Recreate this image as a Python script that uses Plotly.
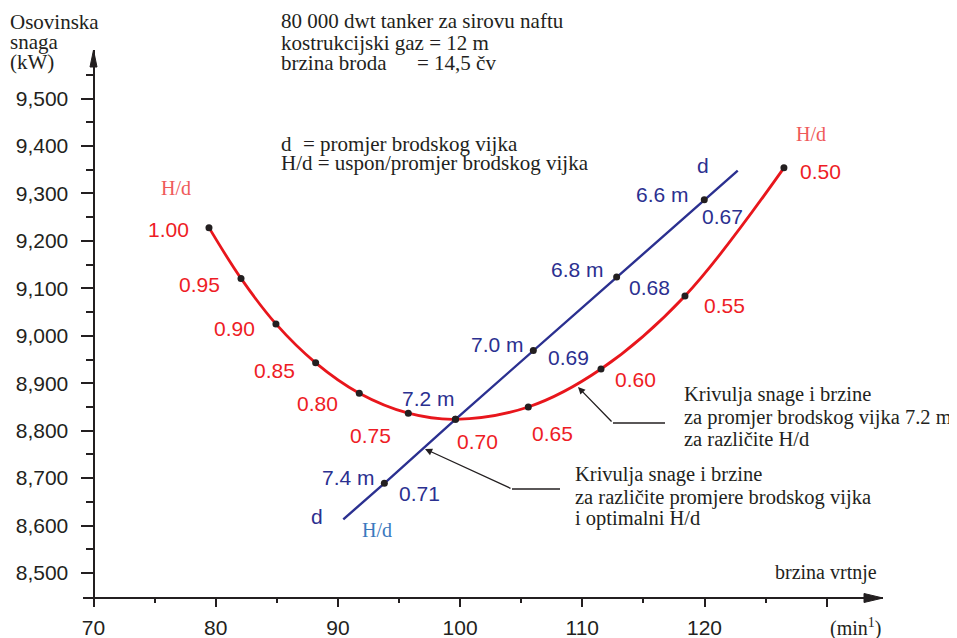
import plotly.graph_objects as go

# ---------------- data ----------------
# red curve: shaft power vs rpm for propeller d = 7.2 m at different H/d
hd_values = [1.00, 0.95, 0.90, 0.85, 0.80, 0.75, 0.70, 0.65, 0.60, 0.55, 0.50]
hd_rpm = [79.45, 82.07, 84.93, 88.18, 91.75, 95.76, 99.62, 105.58, 111.53, 118.40, 126.50]
hd_power = [9228, 9121, 9025, 8943, 8879, 8837, 8824, 8850, 8930, 9084, 9354]

# blue line: different propeller diameters with optimal H/d
d_labels = ["7.4 m", "7.2 m", "7.0 m", "6.8 m", "6.6 m"]
d_opt_hd = [0.71, 0.70, 0.69, 0.68, 0.67]
d_rpm = [93.80, 99.62, 105.99, 112.81, 119.98]
d_power = [8689, 8824, 8969, 9124, 9287]
d_line_rpm = [90.44, 93.80, 99.62, 105.99, 112.81, 119.98, 122.72]
d_line_power = [8613, 8689, 8824, 8969, 9124, 9287, 9348]

x_ticks = [70, 80, 90, 100, 110, 120, 130]
x_tick_labels = ["70", "80", "90", "100", "110", "120", ""]
x_minor = [75, 85, 95, 105, 115, 125]
y_ticks = [8500, 8600, 8700, 8800, 8900, 9000, 9100, 9200, 9300, 9400, 9500]
y_tick_labels = ["8,500", "8,600", "8,700", "8,800", "8,900", "9,000",
                 "9,100", "9,200", "9,300", "9,400", "9,500"]
y_minor = [8550, 8650, 8750, 8850, 8950, 9050, 9150, 9250, 9350, 9450, 9550]

# ---------------- styling ----------------
# the page body adds an 8 px margin, so the figure is drawn 8 px in from the window edge
OFF = 8
WIN_W, WIN_H = 957, 638
W, H = WIN_W - OFF, WIN_H - OFF
PLOT_L, PLOT_R, PLOT_T, PLOT_B = 83, 883, 50, 603      # plot area in window pixels
L, T = PLOT_L - OFF, PLOT_T - OFF
R, B = WIN_W - PLOT_R, WIN_H - PLOT_B
PW, PH = PLOT_R - PLOT_L, PLOT_B - PLOT_T
RED = "#e8161c"
RED_TXT = "#ee1c25"
RED_LIGHT = "#ef5a5a"
NAVY = "#2b3090"
BLUE_LIGHT = "#3a78be"
INK = "#231f20"
SANS = "Liberation Sans, Arial, sans-serif"
SERIF = "Liberation Serif, Times New Roman, serif"


def P(px, py):
    """window pixel -> paper coordinates (for layout decorations only)"""
    return (px - PLOT_L) / PW, (PLOT_B - py) / PH


fig = go.Figure()

fig.add_trace(go.Scatter(x=hd_rpm, y=hd_power, mode="lines",
                         line=dict(color=RED, width=2.8, shape="spline", smoothing=1.0),
                         hoverinfo="skip", showlegend=False))
fig.add_trace(go.Scatter(x=d_line_rpm, y=d_line_power, mode="lines",
                         line=dict(color=NAVY, width=2.4),
                         hoverinfo="skip", showlegend=False))
fig.add_trace(go.Scatter(x=hd_rpm, y=hd_power, mode="markers",
                         marker=dict(color=INK, size=7),
                         hoverinfo="skip", showlegend=False))
fig.add_trace(go.Scatter(x=d_rpm, y=d_power, mode="markers",
                         marker=dict(color=INK, size=7),
                         hoverinfo="skip", showlegend=False))

ann = []

# red H/d labels (offsets in px relative to each point)
red_off = [("right", -18, 2), ("right", -19, 6), ("right", -19, 5), ("right", -19, 8),
           ("right", -19, 10), ("right", -15, 22), ("left", 0, 22), ("left", 2, 27),
           ("left", 12, 10), ("left", 17, 10), ("left", 14, 4)]
for v, xr, yr, (anc, dx, dy) in zip(hd_values, hd_rpm, hd_power, red_off):
    ann.append(dict(x=xr, y=yr, xref="x", yref="y", text=f"{v:.2f}", showarrow=False,
                    xanchor=anc, yanchor="middle", xshift=dx, yshift=-dy,
                    font=dict(family=SANS, size=21, color=RED_TXT)))

# blue diameter labels and optimal H/d labels
d_off = [(-7, 6), (2, 21), (-7, 6), (-11, 7), (-13, 5)]
hd_off = [(13, 10), None, (13, 7), (10, 11), (-4, 17)]
for lab, hv, xr, yr, do, ho in zip(d_labels, d_opt_hd, d_rpm, d_power, d_off, hd_off):
    ann.append(dict(x=xr, y=yr, xref="x", yref="y", text=lab, showarrow=False,
                    xanchor="right", yanchor="middle", xshift=do[0], yshift=do[1],
                    font=dict(family=SANS, size=21, color=NAVY)))
    if ho is not None:
        ann.append(dict(x=xr, y=yr, xref="x", yref="y", text=f"{hv:.2f}", showarrow=False,
                        xanchor="left", yanchor="middle", xshift=ho[0], yshift=-ho[1],
                        font=dict(family=SANS, size=21, color=NAVY)))


def txt(px, py, s, anchor="left", color=INK, family=SERIF, size=21):
    x, y = P(px, py)
    ann.append(dict(x=x, y=y, xref="paper", yref="paper", text=s, showarrow=False,
                    xanchor=anchor, yanchor="middle",
                    font=dict(family=family, size=size, color=color)))


# axis titles
txt(8, 22, "Osovinska")
txt(8, 42, "snaga")
txt(8, 62, "(kW)")
txt(879, 572, "brzina vrtnje", anchor="right", size=20)
txt(828, 627, "(min<sup>1</sup>)", size=20)

# info block
txt(279, 21, "80 000 dwt tanker za sirovu naftu")
txt(279, 43, "kostrukcijski gaz = 12 m")
txt(279, 63, "brzina broda")
txt(415, 63, "= 14,5 čv")
txt(279, 144, "d")
txt(301, 144, "= promjer brodskog vijka")
txt(279, 163, "H/d = uspon/promjer brodskog vijka")

# series name markers
txt(176, 188, "H/d", anchor="center", color=RED_LIGHT, size=20)
txt(811, 134, "H/d", anchor="center", color=RED_LIGHT, size=20)
txt(703, 165, "d", anchor="center", color=NAVY, family=SANS, size=21)
txt(317, 516, "d", anchor="center", color=NAVY, family=SANS, size=21)
txt(377, 530, "H/d", anchor="center", color=BLUE_LIGHT, size=20)

# callout texts
txt(682, 394, "Krivulja snage i brzine", size=20.5)
txt(682, 417, "za promjer brodskog vijka 7.2 m", size=20.5)
txt(682, 439, "za različite H/d", size=20.5)
txt(573, 474, "Krivulja snage i brzine", size=20.5)
txt(573, 497, "za različite promjere brodskog vijka", size=20.5)
txt(573, 518, "i optimalni H/d", size=20.5)

shapes = []


def seg(p1, p2):
    x0, y0 = P(*p1)
    x1, y1 = P(*p2)
    shapes.append(dict(type="line", xref="paper", yref="paper", x0=x0, y0=y0, x1=x1, y1=y1,
                       line=dict(color=INK, width=1.3)))


def pointer(tail, tip):
    x1, y1 = P(*tip)
    ann.append(dict(x=x1, y=y1, xref="paper", yref="paper",
                    ax=tail[0] - tip[0], ay=tail[1] - tip[1],
                    axref="pixel", ayref="pixel", text="", showarrow=True,
                    arrowhead=2, arrowsize=1.1, arrowwidth=1.3, arrowcolor=INK, standoff=0))


# leader lines
seg((665, 423), (613, 423))
pointer((613, 423), (578, 387))
seg((560, 489), (512, 489))
pointer((512, 489), (425, 449))


def tri(a, b, c):
    pa, pb, pc = P(*a), P(*b), P(*c)
    shapes.append(dict(type="path", xref="paper", yref="paper",
                       path=f"M {pa[0]},{pa[1]} L {pb[0]},{pb[1]} L {pc[0]},{pc[1]} Z",
                       fillcolor=INK, line=dict(color=INK, width=1)))


# axis arrowheads
tri((883, 598), (864, 593.5), (864, 602.5))
tri((93.5, 50), (90, 67), (97, 67))

x_lo = 70 - 10.5 / 12.22
x_hi = 70 + 789.5 / 12.22
y_lo = 8500 - 30 / 0.4744
y_hi = 8500 + 523 / 0.4744

fig.update_layout(
    width=W, height=H,
    margin=dict(l=L, r=R, t=T, b=B, pad=0, autoexpand=False),
    paper_bgcolor="white", plot_bgcolor="white",
    showlegend=False,
    annotations=ann, shapes=shapes,
    xaxis=dict(range=[x_lo, x_hi], anchor="free", position=5 / PH, automargin=False,
               showgrid=False, zeroline=False, showline=True, linecolor=INK, linewidth=2,
               tickmode="array", tickvals=x_ticks, ticktext=x_tick_labels,
               ticks="outside", ticklen=8, tickwidth=2, tickcolor=INK,
               ticklabelstandoff=3,
               tickfont=dict(family=SANS, size=21, color=INK),
               minor=dict(tickvals=x_minor, ticks="outside", ticklen=4, tickwidth=2,
                          tickcolor=INK, showgrid=False)),
    yaxis=dict(range=[y_lo, y_hi], anchor="free", position=10.5 / PW, automargin=False,
               showgrid=False, zeroline=False, showline=True, linecolor=INK, linewidth=2,
               tickmode="array", tickvals=y_ticks, ticktext=y_tick_labels,
               ticks="outside", ticklen=12, tickwidth=2, tickcolor=INK,
               ticklabelstandoff=8,
               tickfont=dict(family=SANS, size=21, color=INK),
               minor=dict(tickvals=y_minor, ticks="outside", ticklen=7, tickwidth=2,
                          tickcolor=INK, showgrid=False)),
)

fig.write_html("out.html")
